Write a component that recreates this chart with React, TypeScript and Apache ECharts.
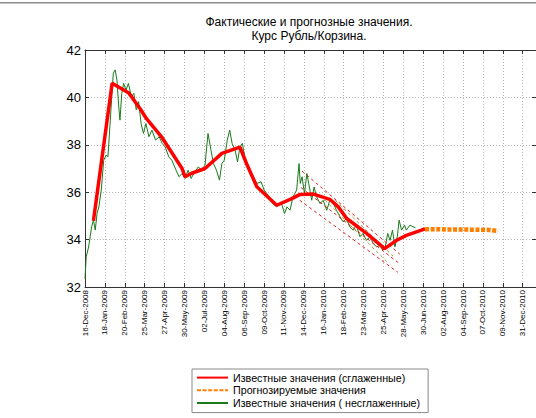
import React, { useEffect, useRef } from "react";
import * as echarts from "echarts";

// X axis: days counted from 16-Dec-2008, one tick every 33 days
const tickLabels = [
  "16-Dec-2008", "18-Jan-2009", "20-Feb-2009", "25-Mar-2009", "27-Apr-2009",
  "30-May-2009", "02-Jul-2009", "04-Aug-2009", "06-Sep-2009", "09-Oct-2009",
  "11-Nov-2009", "14-Dec-2009", "16-Jan-2010", "18-Feb-2010", "23-Mar-2010",
  "25-Apr-2010", "28-May-2010", "30-Jun-2010", "02-Aug-2010", "04-Sep-2010",
  "07-Oct-2010", "09-Nov-2010", "31-Dec-2010",
];

const rawDays = [
  0, 2, 6, 11, 14, 17, 20, 23, 27, 31, 35, 38, 42, 45, 47, 50, 53, 56, 58, 61,
  64, 68, 72, 77, 81, 85, 89, 93, 97, 101, 106, 111, 117, 123, 128, 133, 139,
  144, 151, 156, 161, 166, 171, 176, 182, 188, 193, 199, 204, 209, 213, 218,
  223, 227, 231, 236, 240, 244, 249, 253, 257, 261, 265, 270, 274, 279, 285,
  292, 297, 304, 311, 318, 325, 331, 335, 340, 345, 351, 355, 357, 360, 364,
  368, 371, 376, 380, 384, 390, 395, 401, 406, 412, 417, 423, 428, 434, 439,
  445, 450, 456, 461, 467, 473, 478, 484, 489, 494, 498, 502, 506, 510, 514,
  518, 521, 525, 530, 533, 539, 544, 548,
];
const rawValues = [
  32.35, 33.27, 33.69, 34.54, 34.82, 34.4, 35.1, 35.38, 36.09, 37.35, 37.56,
  37.49, 39.04, 40.31, 41.02, 41.16, 40.73, 39.6, 39.04, 40.17, 40.59, 40.31,
  40.59, 40.03, 40.17, 39.47, 39.82, 38.9, 38.48, 38.9, 38.34, 38.62, 38.2,
  38.34, 38.06, 37.91, 37.49, 37.35, 36.93, 36.65, 36.79, 36.58, 36.93, 36.58,
  36.86, 37.07, 36.93, 37.14, 38.48, 37.77, 37.21, 36.93, 36.51, 37.21, 37.35,
  38.2, 38.62, 38.06, 37.77, 37.28, 37.92, 38.06, 37.49, 37.07, 36.93, 36.65,
  36.37, 36.44, 36.09, 35.87, 35.52, 35.38, 35.59, 35.1, 35.38, 35.24, 35.8,
  36.09, 37.21, 36.37, 36.65, 35.94, 36.79, 36.37, 35.66, 36.22, 35.8, 35.52,
  35.66, 35.24, 35.66, 35.52, 35.24, 34.96, 34.75, 34.89, 34.54, 34.4, 34.61,
  34.12, 34.26, 33.97, 34.12, 33.83, 33.69, 33.76, 33.55, 33.69, 34.26, 33.97,
  34.4, 33.69, 34.12, 34.82, 34.4, 34.61, 34.4, 34.61, 34.54, 34.5,
];

const smoothDays = [
  14, 45, 72, 78, 92, 102, 128, 161, 166, 177, 199, 227, 257, 268, 285, 318,
  343, 356, 379, 406, 420, 434, 467, 497, 517, 533, 564,
];
const smoothValues = [
  34.8, 40.6, 40.2, 40.0, 39.5, 39.1, 38.3, 37.0, 36.65, 36.8, 37.0, 37.64,
  37.9, 37.2, 36.23, 35.45, 35.73, 35.9, 35.92, 35.7, 35.38, 34.89, 34.26,
  33.62, 33.97, 34.18, 34.45,
];

const forecastDays = [564, 600, 640, 670, 685];
const forecastValues = [34.44, 34.43, 34.42, 34.41, 34.36];

// trend channel lines: [startDay, startValue, endDay, endValue]
const channelRed = [
  [360, 36.89, 522, 33.39],
  [358, 36.2, 521, 33.0],
  [356, 35.66, 519, 32.62],
];
const channelOlive = [
  [398, 35.66, 502, 33.04],
  [415, 35.66, 511, 33.3],
];

const NAME_SMOOTH = "Известные значения (сглаженные)";
const NAME_FORECAST = "Прогнозируемые значения";
const NAME_RAW = "Известные значения ( несглаженные)";

const FONT = "'Liberation Sans', Arial, sans-serif";

const zip = (a: number[], b: number[]) => a.map((d, i) => [d, b[i]]);

export default function App() {
  const ref = useRef<HTMLDivElement>(null);
  useEffect(() => {
    if (!ref.current) return;
    const chart = echarts.init(ref.current, undefined, { renderer: "svg" });
    const frame = { show: true, onZero: false, lineStyle: { color: "#333", width: 1 } };
    const tick = { show: true, inside: true, length: 4, lineStyle: { color: "#333" } };
    const grid = { show: true, lineStyle: { color: "#b5b5b5", type: [1, 2] as any, width: 1 } };
    const channelSeries = [
      ...channelRed.map((c) => ({ c, color: "#e02020" })),
      ...channelOlive.map((c) => ({ c, color: "#9a9a30" })),
    ].map(({ c, color }) => ({
      type: "line",
      data: [[c[0], c[1]], [c[2], c[3]]],
      symbol: "none",
      silent: true,
      lineStyle: { color, width: 1, type: [3, 3] },
      z: 3,
    }));
    chart.setOption({
      animation: false,
      backgroundColor: "#fff",
      title: {
        text: "Фактические и прогнозные значения.\nКурс Рубль/Корзина.",
        left: 309,
        top: 15,
        padding: 0,
        textAlign: "center",
        textStyle: { fontSize: 12, fontWeight: "normal", color: "#000", fontFamily: FONT, lineHeight: 14 },
      },
      legend: {
        data: [NAME_SMOOTH, NAME_FORECAST, NAME_RAW],
        orient: "vertical",
        left: 192,
        top: 369,
        padding: [3, 8, 4, 4],
        itemGap: 1.5,
        itemWidth: 31,
        itemHeight: 14,
        borderColor: "#888",
        borderWidth: 1,
        borderRadius: 0,
        backgroundColor: "#fff",
        itemStyle: { color: "transparent", borderColor: "transparent", borderWidth: 0, opacity: 0 },
        textStyle: { fontSize: 10.7, color: "#000", fontFamily: FONT },
      },
      graphic: [
        { type: "rect", shape: { x: 0, y: 2, width: 536, height: 1.5 }, style: { fill: "#8c8c8c" }, silent: true },
      ],
      grid: { left: 85, top: 50, width: 451, height: 237, containLabel: false },
      xAxis: [
        {
          type: "value",
          min: 0,
          max: 748,
          interval: 33,
          position: "bottom",
          axisLine: frame,
          axisTick: tick,
          splitLine: grid,
          axisLabel: {
            rotate: 90,
            fontSize: 8,
            color: "#000",
            margin: 3,
            fontFamily: FONT,
            formatter: (v: number) => {
              const i = Math.round(v / 33);
              return Math.abs(v - i * 33) < 0.01 && tickLabels[i] ? tickLabels[i] : "";
            },
          },
        },
        {
          type: "value",
          min: 0,
          max: 748,
          interval: 33,
          position: "top",
          axisLine: frame,
          axisTick: tick,
          axisLabel: { show: false },
          splitLine: { show: false },
        },
      ],
      yAxis: [
        {
          type: "value",
          min: 32,
          max: 42,
          interval: 2,
          position: "left",
          axisLine: frame,
          axisTick: tick,
          splitLine: grid,
          axisLabel: { fontSize: 13, color: "#000", margin: 4, fontFamily: FONT },
        },
        {
          type: "value",
          min: 32,
          max: 42,
          interval: 2,
          position: "right",
          axisLine: frame,
          axisTick: tick,
          axisLabel: { show: false },
          splitLine: { show: false },
        },
      ],
      series: [
        {
          name: NAME_RAW,
          type: "line",
          data: zip(rawDays, rawValues),
          symbol: "none",
          lineStyle: { color: "#1a7a1a", width: 1 },
          itemStyle: { color: "#1a7a1a" },
          z: 2,
        },
        ...channelSeries,
        {
          name: NAME_SMOOTH,
          type: "line",
          data: zip(smoothDays, smoothValues),
          symbol: "none",
          lineStyle: { color: "#ff0000", width: 3.5 },
          itemStyle: { color: "#ff0000" },
          z: 4,
        },
        {
          name: NAME_FORECAST,
          type: "line",
          data: zip(forecastDays, forecastValues),
          symbol: "none",
          lineStyle: { color: "#ff7f00", width: 4.5, type: [4, 1.6] },
          itemStyle: { color: "#ff7f00" },
          z: 4,
        },
      ],
    });
    return () => chart.dispose();
  }, []);
  return (
    <div
      ref={ref}
      style={{ position: "fixed", left: 0, top: 0, width: 536, height: 418, background: "#fff" }}
    />
  );
}
